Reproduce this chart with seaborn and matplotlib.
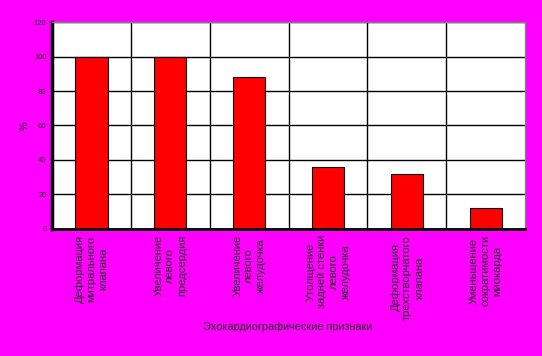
import matplotlib
matplotlib.use('Agg')
import matplotlib.pyplot as plt
import seaborn as sns
import pandas as pd

categories = ['Деформация\nмитрального\nклапана',
              'Увеличение\nлевого\nпредсердия',
              'Увеличение\nлевого\nжелудочка',
              'Утолщение\nзадней стенки\nлевого\nжелудочка',
              'Деформация\nтрехстворчатого\nклапана',
              'Уменьшение\nсократимости\nмиокарда']
values = [100, 100, 88, 36, 32, 12]
y_ticks = [0, 20, 40, 60, 80, 100, 120]

df = pd.DataFrame({'sign': categories, 'pct': values})

sns.set_style('white')
plt.rcParams['font.family'] = ['Liberation Sans', 'DejaVu Sans']

fig = plt.figure(figsize=(5.42, 3.56), dpi=100, facecolor='#ff00ff')
ax = fig.add_axes([0.096, 0.357, 0.873, 0.581])
ax.set_facecolor('white')

sns.barplot(data=df, x='sign', y='pct', color='#ff0000', edgecolor='black',
            linewidth=0.8, width=0.41, saturation=1, ax=ax)

ax.set_ylim(0, 120)
ax.set_xlim(-0.5, len(categories) - 0.5)
ax.set_yticks(y_ticks)
ax.set_yticklabels([str(t) for t in y_ticks], fontsize=5.5)
ax.yaxis.grid(True, color='black', linewidth=1)
for i in range(len(categories) - 1):
    ax.axvline(i + 0.5, color='black', linewidth=1, zorder=0)
ax.set_axisbelow(True)

# ticks on category boundaries, labels at centres
ax.set_xticks([i + 0.5 for i in range(-1, len(categories))])
ax.set_xticklabels([])
ax.tick_params(axis='x', length=2, width=1.5, color='black')
ax.tick_params(axis='y', length=2, width=1.5, color='black', pad=2)
for i, lab in enumerate(categories):
    ax.text(i, -3.5, lab, rotation=90, ha='center', va='top', multialignment='center',
            fontsize=8, linespacing=1.22)

for side in ['top', 'right']:
    ax.spines[side].set_color('#808080')
    ax.spines[side].set_linewidth(1)
ax.spines['left'].set_color('black')
ax.spines['left'].set_linewidth(2.5)
ax.spines['bottom'].set_color('black')
ax.spines['bottom'].set_linewidth(2)

ax.set_ylabel('%', fontsize=7, rotation=90, labelpad=3)
ax.set_xlabel('')
fig.text(0.53, 0.081, 'Эхокардиографические признаки', ha='center', va='center', fontsize=7.8)

fig.savefig('out.png', dpi=100, facecolor=fig.get_facecolor())
